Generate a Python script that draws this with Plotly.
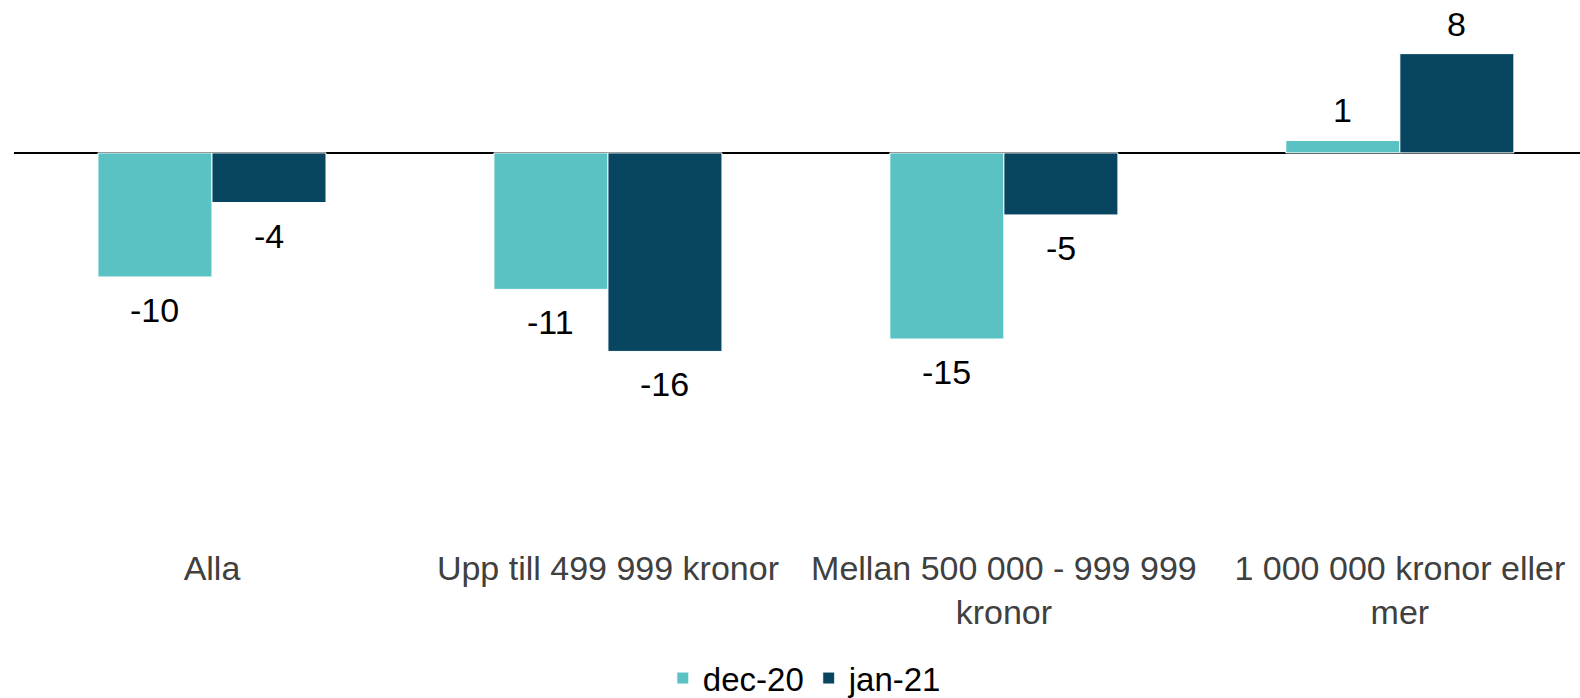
import plotly.graph_objects as go

# -------- Data --------
categories = [
    "Alla",
    "Upp till 499 999 kronor",
    "Mellan 500 000 - 999 999<br>kronor",
    "1 000 000 kronor eller<br>mer",
]
dec_20 = [-10, -11, -15, 1]
jan_21 = [-4, -16, -5, 8]

series = [("dec-20", dec_20, "#5BC2C3", -57), ("jan-21", jan_21, "#074560", 57)]

# -------- Plot --------
fig = go.Figure()
for name, vals, color, dx in series:
    fig.add_trace(go.Bar(x=categories, y=vals, name=name,
                         marker=dict(color=color, line=dict(color="white", width=1))))
    # value labels, a bit further from the bar end than plotly's own "outside" text
    for cat, v in zip(categories, vals):
        fig.add_annotation(x=cat, y=v, text=str(v), showarrow=False,
                           xshift=dx, yshift=30 if v >= 0 else -33,
                           yanchor="middle", font=dict(size=34, color="#000000"))

fig.update_layout(
    width=1580, height=698,
    margin=dict(l=14, r=0, t=4, b=153, autoexpand=False),
    barmode="group", bargap=0.424, bargroupgap=0,
    plot_bgcolor="white", paper_bgcolor="white",
    font=dict(family="Liberation Sans, Arial, sans-serif", size=34, color="#000000"),
    showlegend=True,
    legend=dict(orientation="h", x=0.505, xanchor="center", y=-0.246, yanchor="middle",
                font=dict(size=33, color="#000000"), itemwidth=30, tracegroupgap=0),
)
fig.update_xaxes(range=[-0.5, 3.455], showline=False, showgrid=False, ticks="",
                 automargin=False, tickfont=dict(size=34, color="#404040"))
fig.update_yaxes(range=[-31.6, 12], showgrid=False, showticklabels=False, ticks="",
                 automargin=False,
                 zeroline=True, zerolinecolor="#000000", zerolinewidth=2)

# remove the default page margin so the figure fills the window exactly
fig.write_html("out.html", config={"displayModeBar": False},
               post_script="document.body.style.margin='0';document.body.style.overflow='hidden';")
